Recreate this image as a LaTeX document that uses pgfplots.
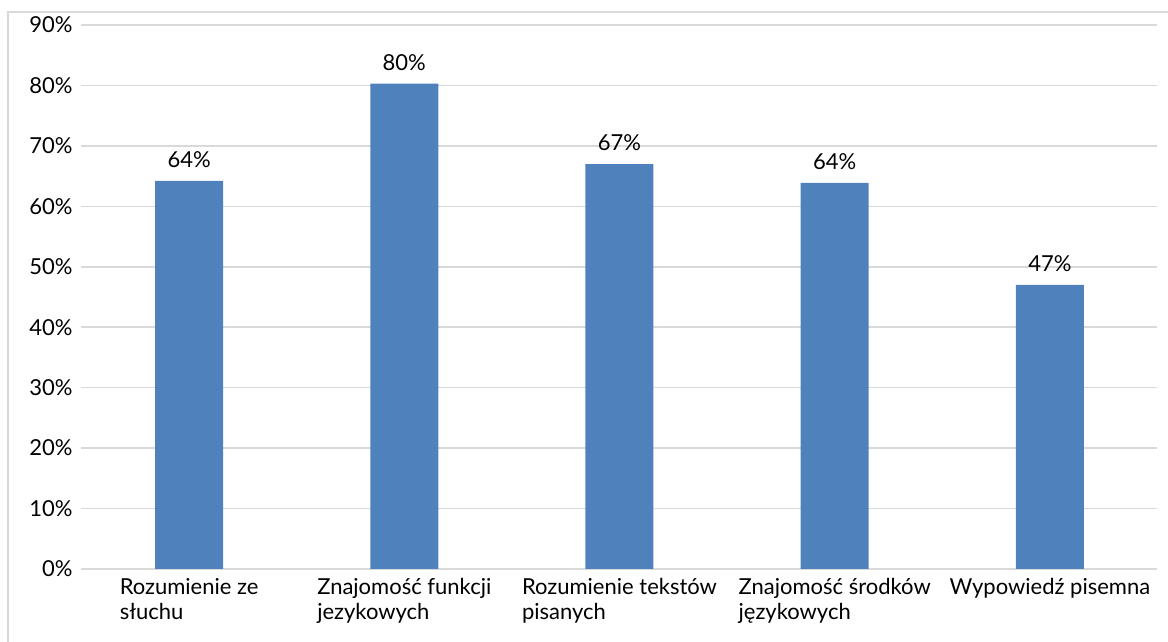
\documentclass[border=0pt]{standalone}
\usepackage{fontspec}
\setmainfont{Lato}
\usepackage{pgfplots}
\pgfplotsset{compat=1.18}

\definecolor{barblue}{HTML}{4F81BD}
\definecolor{gridgray}{HTML}{D9D9D9}

\begin{document}
\begin{tikzpicture}
  \begin{axis}[
      scale only axis,
      width=538pt, height=272pt,
      ybar, bar width=34pt,
      xmin=-0.5, xmax=4.5,
      ymin=0, ymax=90,
      ytick={0,10,...,90},
      yticklabel={\pgfmathprintnumber{\tick}\%},
      /pgf/number format/assume math mode=true,
      xtick={0,1,2,3,4},
      xticklabels={{Rozumienie ze\\słuchu},{Znajomość funkcji\\jezykowych},{Rozumienie tekstów\\pisanych},{Znajomość środków\\językowych},{Wypowiedź pisemna}},
      xticklabel style={align=left, anchor=north, font=\fontsize{11}{12.5}\selectfont, yshift=-1pt},
      yticklabel style={font=\fontsize{11}{12.5}\selectfont, xshift=-1pt},
      ymajorgrids, major grid style={gridgray, line width=0.75pt},
      axis x line*=bottom, axis y line*=left,
      x axis line style={gridgray, line width=0.75pt, -},
      y axis line style={draw=none},
      major tick length=0pt,
      tick style={draw=none},
      nodes near coords={\pgfmathprintnumber[fixed,precision=0]{\pgfplotspointmeta}\%},
      every node near coord/.append style={font=\fontsize{11}{12.5}\selectfont, black, yshift=3pt},
      clip=false,
    ]
    \addplot[fill=barblue, draw=none] coordinates {
      (0,64.2) (1,80.3) (2,67.0) (3,63.9) (4,47.0)
    };
  \end{axis}
  \draw[gridgray, line width=0.8pt] (-36.75pt,-60pt) -- (-36.75pt,278.5pt) -- (620pt,278.5pt);
  \pgfresetboundingbox
  \useasboundingbox (-40.75pt,-36.5pt) rectangle (543.25pt,284.5pt);
\end{tikzpicture}
\end{document}
